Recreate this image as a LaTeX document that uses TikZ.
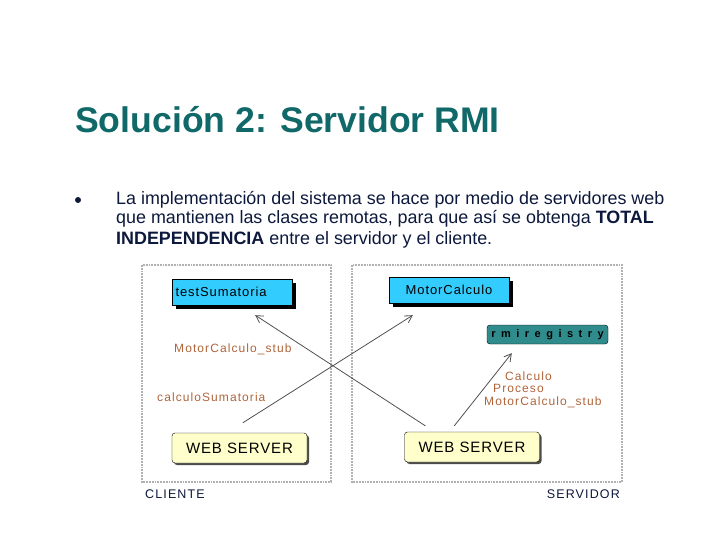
\documentclass[tikz,border=0pt]{standalone}
\usepackage{fontspec}
\setmainfont{Liberation Sans}
\usepackage{tikz}
\usetikzlibrary{arrows.meta,shadows}

\definecolor{titleteal}{RGB}{16,104,104}
\definecolor{navytext}{RGB}{12,24,60}
\definecolor{stubbrown}{RGB}{176,100,58}
\definecolor{boxcyan}{RGB}{51,204,255}
\definecolor{regteal}{RGB}{48,140,140}
\definecolor{webyellow}{RGB}{255,255,204}
\definecolor{arrowgray}{RGB}{80,80,80}

\tikzset{
  classbox/.style = {draw = black, fill = boxcyan, minimum width = 120pt, minimum height = 26pt,
    inner sep = 0pt, font = \fontsize{13}{13}\selectfont\addfontfeature{LetterSpace = 7},
    drop shadow = {shadow xshift = 4pt, shadow yshift = -4pt, fill = black, opacity = 1}},
  webbox/.style = {draw = black, fill = webyellow, rounded corners = 3pt, minimum width = 135pt,
    minimum height = 30pt, inner sep = 0pt, font = \fontsize{15}{15}\selectfont\addfontfeature{LetterSpace = 6},
    drop shadow = {shadow xshift = 2pt, shadow yshift = -2pt, fill = black!70, opacity = 1}},
  stublabel/.style = {anchor = west, inner sep = 0pt, text = stubbrown,
    font = \fontsize{12}{12}\selectfont\addfontfeature{LetterSpace = 9}},
  sidelabel/.style = {inner sep = 0pt, text = navytext, font = \fontsize{12.5}{12.5}\selectfont\addfontfeature{LetterSpace = 9}},
  bodyline/.style = {anchor = base west, inner sep = 0pt, text = navytext, font = \fontsize{17.9}{17.9}\selectfont},
  zone/.style = {draw = gray!60, line width = 1.8pt, densely dotted},
  call/.style = {draw = arrowgray, line width = 0.8pt, -{Straight Barb[length = 7pt, width = 8pt]}}
}

\begin{document}
\begin{tikzpicture}[x = 1pt, y = -1pt]
  \useasboundingbox (0, 0) rectangle (720, 540);

  \node[anchor = base west, inner sep = 0pt, text = titleteal, font = \fontsize{35.6}{35.6}\selectfont\bfseries]
    (title) at (75, 133) {Solución 2: Servidor RMI};

  \fill[navytext] (78, 200) circle (3pt);
  \node[bodyline] (line1) at (116, 205) {La implementación del sistema se hace por medio de servidores web};
  \node[bodyline] (line2) at (116, 224) {que mantienen las clases remotas, para que así se obtenga \textbf{TOTAL}};
  \node[bodyline] (line3) at (116, 244) {\textbf{INDEPENDENCIA} entre el servidor y el cliente.};

  \draw[zone] (142, 265) rectangle (331, 482);
  \draw[zone] (352, 265) rectangle (622, 482);

  \node[classbox, text width = 113pt, align = left] (testSum) at (232, 292) {testSumatoria};
  \node[classbox] (motorCalc) at (449, 290) {MotorCalculo};
  \node[draw = black, fill = regteal, rounded corners = 3pt, minimum width = 121pt, minimum height = 19pt,
    inner sep = 0pt, font = \fontsize{11}{11}\selectfont\bfseries\addfontfeature{LetterSpace = 50}]
    (rmiReg) at (547.5, 334.5) {rmiregistry};

  \node[webbox] (cliWeb) at (239.5, 448) {WEB SERVER};
  \node[webbox] (srvWeb) at (472, 447) {WEB SERVER};

  \node[stublabel] (cliStub) at (174, 349) {MotorCalculo\_stub};
  \node[stublabel] (cliSum) at (157, 397) {calculoSumatoria};
  \node[stublabel] (srvCalc) at (505, 376) {Calculo};
  \node[stublabel] (srvProc) at (493, 388.5) {Proceso};
  \node[stublabel] (srvStub) at (484, 402) {MotorCalculo\_stub};

  \node[sidelabel, anchor = west] (cliente) at (145, 494) {CLIENTE};
  \node[sidelabel, anchor = east] (servidor) at (620, 494) {SERVIDOR};

  \draw[call] ([xshift = 21pt, yshift = 6pt]srvWeb.north west) -- ([xshift = -37pt, yshift = -10pt]testSum.south east);
  \draw[call] ([xshift = 71pt, yshift = 10pt]cliWeb.north west) -- ([xshift = 24pt, yshift = -12pt]motorCalc.south west);
  \draw[call] ([xshift = 50pt, yshift = 6pt]srvWeb.north west) -- ([xshift = 25pt, yshift = -9pt]rmiReg.south west);
\end{tikzpicture}
\end{document}
